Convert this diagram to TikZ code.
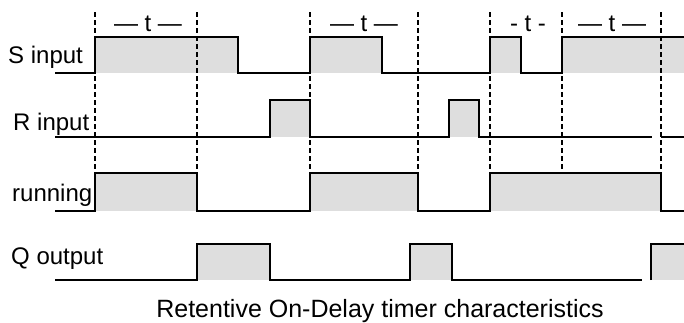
\documentclass[tikz,border=0pt]{standalone}
\usepackage{fontspec}
\setmainfont{Liberation Sans}
\usepackage{tikz}
\definecolor{signalGrey}{rgb}{0.87, 0.87, 0.87}

\tikzset{
    sigText/.style = {inner sep=0pt, font=\fontsize{24}{29}\selectfont},
    sigLine/.style = {line width = 1.7pt, line join=miter},
    markLine/.style = {line width = 1.2pt, dash pattern=on 5pt off 3pt}
}

\begin{document}
\begin{tikzpicture}[x=1pt, y=-1pt]
        \useasboundingbox (0,0) rectangle (684,322);

        % labels
        \node[sigText, anchor=base west] (sLabel) at (8,63) {S input};
        \node[sigText, anchor=base west] (rLabel) at (13,130) {R input};
        \node[sigText, anchor=base west] (runLabel) at (12,201) {running};
        \node[sigText, anchor=base west] (qLabel) at (11,264) {Q output};
        \node[sigText, anchor=base, font=\fontsize{25}{30}\selectfont] (caption) at (380,317) {Retentive On-Delay timer characteristics};

        % time marks
        \node[sigText, anchor=base] (tOne) at (148,31) {— t —};
        \node[sigText, anchor=base] (tTwo) at (364,31) {— t —};
        \node[sigText, anchor=base] (tThree) at (528,31) {- t -};
        \node[sigText, anchor=base] (tFour) at (612,31) {— t —};

        % S input
        \fill[signalGrey] (95,37) rectangle (238,73);
        \fill[signalGrey] (310,37) rectangle (382,73);
        \fill[signalGrey] (490,37) rectangle (521,73);
        \fill[signalGrey] (562,37) rectangle (684,73);
        \draw[sigLine] (55,73) -- (95,73) -- (95,37) -- (238,37) -- (238,73) -- (310,73) -- (310,37)
            -- (382,37) -- (382,73) -- (490,73) -- (490,37) -- (521,37) -- (521,73) -- (562,73)
            -- (562,37) -- (684,37);

        % R input
        \fill[signalGrey] (270,100) rectangle (310,137);
        \fill[signalGrey] (449,100) rectangle (479,137);
        \draw[sigLine] (55,137) -- (270,137) -- (270,100) -- (310,100) -- (310,137) -- (449,137)
            -- (449,100) -- (479,100) -- (479,137) -- (652,137);
        \draw[sigLine] (661,137) -- (684,137);

        % running
        \fill[signalGrey] (95,173) rectangle (197,211);
        \fill[signalGrey] (310,173) rectangle (418,211);
        \fill[signalGrey] (490,173) rectangle (661,211);
        \draw[sigLine] (55,211) -- (95,211) -- (95,173) -- (197,173) -- (197,211) -- (310,211)
            -- (310,173) -- (418,173) -- (418,211) -- (490,211) -- (490,173) -- (661,173)
            -- (661,211) -- (684,211);

        % Q output
        \fill[signalGrey] (197,244) rectangle (270,280);
        \fill[signalGrey] (410,244) rectangle (452,280);
        \fill[signalGrey] (651,244) rectangle (684,280);
        \draw[sigLine] (55,280) -- (197,280) -- (197,244) -- (270,244) -- (270,280) -- (410,280)
            -- (410,244) -- (452,244) -- (452,280) -- (642,280);
        \draw[sigLine] (651,280) -- (651,244) -- (684,244);

        % dashed time lines
        \draw[markLine] (95,12) -- (95,173);
        \draw[markLine] (197,12) -- (197,173);
        \draw[markLine] (310,12) -- (310,173);
        \draw[markLine] (418,12) -- (418,173);
        \draw[markLine] (490,12) -- (490,173);
        \draw[markLine] (562,12) -- (562,173);
        \draw[markLine] (661,12) -- (661,173);

    \end{tikzpicture}
\end{document}
